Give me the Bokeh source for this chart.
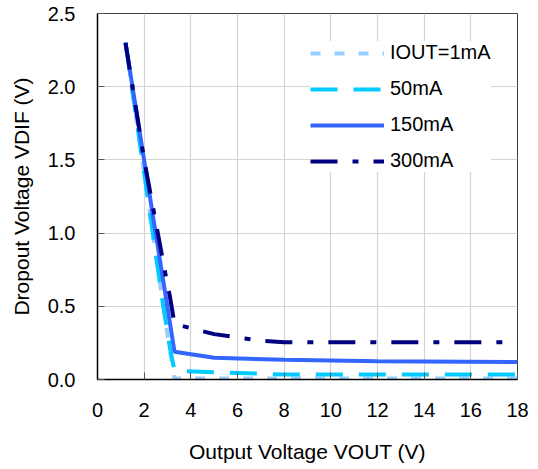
from bokeh.plotting import figure
from bokeh.models import Legend, LegendItem, FixedTicker, NumeralTickFormatter, Range1d
from bokeh.embed import file_html
from bokeh.resources import INLINE

# ---- data ----
series_labels = ["IOUT=1mA", "50mA", "150mA", "300mA"]

vout_1mA = [1.2, 2.8, 3.1, 3.3, 5.0, 8.0, 12.0, 18.0]
vdif_1mA = [2.30, 0.52, 0.20, 0.006, 0.006, 0.006, 0.006, 0.006]

vout_50mA = [1.2, 2.8, 3.1, 3.3, 5.0, 8.0, 12.0, 18.0]
vdif_50mA = [2.30, 0.52, 0.22, 0.06, 0.05, 0.034, 0.034, 0.034]

vout_150mA = [1.2, 3.3, 5.0, 8.0, 12.0, 18.0]
vdif_150mA = [2.30, 0.19, 0.148, 0.135, 0.125, 0.12]

vout_300mA = [1.2, 2.0, 2.9, 3.1, 3.3, 4.0, 5.0, 7.0, 8.0, 12.0, 18.0]
vdif_300mA = [2.30, 1.50, 0.73, 0.57, 0.38, 0.35, 0.31, 0.265, 0.255, 0.255, 0.255]

x_ticks = [0, 2, 4, 6, 8, 10, 12, 14, 16, 18]
y_ticks = [0.0, 0.5, 1.0, 1.5, 2.0, 2.5]

x_title = "Output Voltage VOUT (V)"
y_title = "Dropout Voltage VDIF (V)"

# ---- figure ----
p = figure(width=538, height=469, output_backend="svg", toolbar_location=None,
           x_range=Range1d(0, 18), y_range=Range1d(0, 2.5),
           min_border_left=97, min_border_right=21, min_border_top=13, min_border_bottom=90)
p.background_fill_color = "white"
p.border_fill_color = "white"
p.outline_line_color = "#404040"
p.outline_line_width = 1

FONT = "Liberation Sans"

p.xaxis.ticker = FixedTicker(ticks=x_ticks)
p.yaxis.ticker = FixedTicker(ticks=y_ticks)
p.yaxis.formatter = NumeralTickFormatter(format="0.0")
p.xaxis.axis_label = x_title
p.yaxis.axis_label = y_title

for ax, standoff, lab_standoff in ((p.xaxis, 23, 20), (p.yaxis, 22, 12)):
    ax.axis_line_color = "black"
    ax.axis_line_width = 1.5
    ax.major_tick_in = 7
    ax.major_tick_out = 0
    ax.major_tick_line_color = "#555555"
    ax.major_tick_line_width = 1
    ax.minor_tick_line_color = None
    ax.major_label_text_font = FONT
    ax.major_label_text_font_size = "20px"
    ax.major_label_text_color = "black"
    ax.major_label_standoff = standoff
    ax.axis_label_text_font = FONT
    ax.axis_label_text_font_size = "21px"
    ax.axis_label_text_font_style = "normal"
    ax.axis_label_text_color = "black"
    ax.axis_label_standoff = lab_standoff

for g in (p.xgrid, p.ygrid):
    g.grid_line_color = "#D4D4D4"
    g.grid_line_width = 1.2

# ---- lines ----
r1 = p.line(vout_1mA, vdif_1mA, line_color="#99CCFF", line_width=4, line_dash="10 14")
r2 = p.line(vout_50mA, vdif_50mA, line_color="#00CCFF", line_width=4, line_dash="27 16")
r3 = p.line(vout_150mA, vdif_150mA, line_color="#3366FF", line_width=4)
r4 = p.line(vout_300mA, vdif_300mA, line_color="#000080", line_width=4, line_dash="27 15 6 15")

legend = Legend(items=[LegendItem(label=series_labels[i], renderers=[r]) for i, r in enumerate([r1, r2, r3, r4])],
                location=(213, 207), margin=0, padding=8, spacing=13,
                glyph_width=74, glyph_height=22, label_height=22, label_standoff=6,
                label_text_font=FONT, label_text_font_size="20px", label_text_color="black",
                border_line_color=None, background_fill_color="white", background_fill_alpha=1.0)
p.add_layout(legend)

open("out.html", "w").write(file_html(p, INLINE))
